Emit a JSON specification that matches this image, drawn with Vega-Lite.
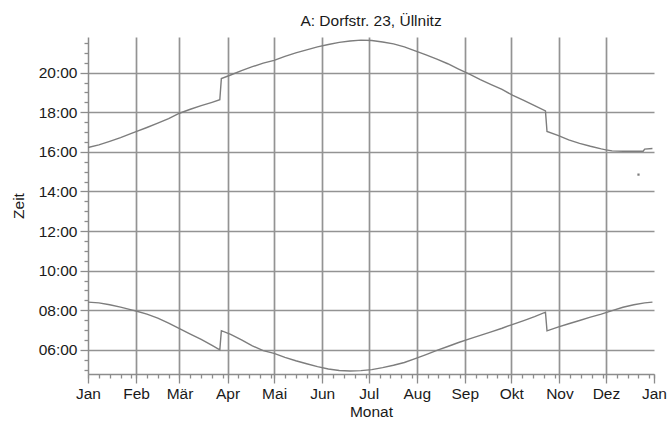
{
  "$schema": "https://vega.github.io/schema/vega-lite/v6.json",
  "width": 566,
  "height": 337,
  "autosize": {"type": "none"},
  "padding": {"left": 88, "top": 37, "right": 13, "bottom": 52},
  "background": "white",
  "title": {"text": "A: Dorfstr. 23, Üllnitz", "fontSize": 15.5, "fontWeight": "normal", "font": "Liberation Sans", "color": "#1a1a1a", "baseline": "alphabetic", "offset": -4.5},
  "config": {"view": {"stroke": null}, "axis": {"labelFont": "Liberation Sans", "titleFont": "Liberation Sans", "labelColor": "#1a1a1a", "titleColor": "#1a1a1a", "titleFontWeight": "normal", "labelFontSize": 15.5, "titleFontSize": 15.5, "domainColor": "#8c8c8c", "domainWidth": 1.5, "tickColor": "#8c8c8c", "tickWidth": 1.3, "gridColor": "#939393", "gridWidth": 1.7, "gridOpacity": 1}},
  "datasets": {
    "untergang": [
      {"d": "2011-01-01", "t": 16.22}, {"d": "2011-01-08", "t": 16.35}, {"d": "2011-01-15", "t": 16.53}, {"d": "2011-01-22", "t": 16.72}, {"d": "2011-01-29", "t": 16.93},
      {"d": "2011-02-01", "t": 17.02}, {"d": "2011-02-08", "t": 17.23}, {"d": "2011-02-15", "t": 17.45}, {"d": "2011-02-22", "t": 17.68},
      {"d": "2011-03-01", "t": 17.95}, {"d": "2011-03-08", "t": 18.15}, {"d": "2011-03-15", "t": 18.33}, {"d": "2011-03-22", "t": 18.5}, {"d": "2011-03-27", "t": 18.63},
      {"d": "2011-03-28", "t": 19.7}, {"d": "2011-04-03", "t": 19.88}, {"d": "2011-04-10", "t": 20.1}, {"d": "2011-04-17", "t": 20.3}, {"d": "2011-04-24", "t": 20.48},
      {"d": "2011-05-01", "t": 20.62}, {"d": "2011-05-08", "t": 20.82}, {"d": "2011-05-15", "t": 21.0}, {"d": "2011-05-22", "t": 21.15}, {"d": "2011-05-29", "t": 21.3},
      {"d": "2011-06-05", "t": 21.42}, {"d": "2011-06-12", "t": 21.53}, {"d": "2011-06-19", "t": 21.6}, {"d": "2011-06-26", "t": 21.64},
      {"d": "2011-07-03", "t": 21.62}, {"d": "2011-07-10", "t": 21.55}, {"d": "2011-07-17", "t": 21.45}, {"d": "2011-07-24", "t": 21.3}, {"d": "2011-07-31", "t": 21.1},
      {"d": "2011-08-07", "t": 20.9}, {"d": "2011-08-14", "t": 20.68}, {"d": "2011-08-21", "t": 20.45}, {"d": "2011-08-28", "t": 20.18},
      {"d": "2011-09-04", "t": 19.92}, {"d": "2011-09-11", "t": 19.65}, {"d": "2011-09-18", "t": 19.4}, {"d": "2011-09-25", "t": 19.15},
      {"d": "2011-10-02", "t": 18.85}, {"d": "2011-10-09", "t": 18.6}, {"d": "2011-10-16", "t": 18.33}, {"d": "2011-10-23", "t": 18.07},
      {"d": "2011-10-24", "t": 17.03}, {"d": "2011-10-31", "t": 16.83}, {"d": "2011-11-07", "t": 16.6}, {"d": "2011-11-14", "t": 16.43}, {"d": "2011-11-21", "t": 16.28}, {"d": "2011-11-28", "t": 16.15},
      {"d": "2011-12-01", "t": 16.1}, {"d": "2011-12-05", "t": 16.05}, {"d": "2011-12-12", "t": 16.03}, {"d": "2011-12-19", "t": 16.03}, {"d": "2011-12-25", "t": 16.03}, {"d": "2011-12-26", "t": 16.14}, {"d": "2011-12-31", "t": 16.17}
    ],
    "aufgang": [
      {"d": "2011-01-01", "t": 8.41}, {"d": "2011-01-08", "t": 8.37}, {"d": "2011-01-15", "t": 8.28}, {"d": "2011-01-22", "t": 8.16}, {"d": "2011-01-29", "t": 8.02},
      {"d": "2011-02-01", "t": 7.96}, {"d": "2011-02-08", "t": 7.8}, {"d": "2011-02-15", "t": 7.6}, {"d": "2011-02-22", "t": 7.35},
      {"d": "2011-03-01", "t": 7.07}, {"d": "2011-03-08", "t": 6.8}, {"d": "2011-03-15", "t": 6.53}, {"d": "2011-03-22", "t": 6.23}, {"d": "2011-03-27", "t": 6.0},
      {"d": "2011-03-28", "t": 6.97}, {"d": "2011-04-03", "t": 6.78}, {"d": "2011-04-10", "t": 6.5}, {"d": "2011-04-17", "t": 6.2}, {"d": "2011-04-24", "t": 5.96},
      {"d": "2011-05-01", "t": 5.82}, {"d": "2011-05-08", "t": 5.62}, {"d": "2011-05-15", "t": 5.45}, {"d": "2011-05-22", "t": 5.3}, {"d": "2011-05-29", "t": 5.15},
      {"d": "2011-06-05", "t": 5.03}, {"d": "2011-06-12", "t": 4.96}, {"d": "2011-06-19", "t": 4.93}, {"d": "2011-06-26", "t": 4.95},
      {"d": "2011-07-03", "t": 5.0}, {"d": "2011-07-10", "t": 5.1}, {"d": "2011-07-17", "t": 5.22}, {"d": "2011-07-24", "t": 5.36}, {"d": "2011-07-31", "t": 5.56},
      {"d": "2011-08-07", "t": 5.76}, {"d": "2011-08-14", "t": 5.97}, {"d": "2011-08-21", "t": 6.17}, {"d": "2011-08-28", "t": 6.37},
      {"d": "2011-09-04", "t": 6.55}, {"d": "2011-09-11", "t": 6.73}, {"d": "2011-09-18", "t": 6.91}, {"d": "2011-09-25", "t": 7.09},
      {"d": "2011-10-02", "t": 7.29}, {"d": "2011-10-09", "t": 7.48}, {"d": "2011-10-16", "t": 7.68}, {"d": "2011-10-23", "t": 7.9},
      {"d": "2011-10-24", "t": 6.96}, {"d": "2011-10-31", "t": 7.15}, {"d": "2011-11-07", "t": 7.32}, {"d": "2011-11-14", "t": 7.48}, {"d": "2011-11-21", "t": 7.65}, {"d": "2011-11-28", "t": 7.8},
      {"d": "2011-12-05", "t": 7.98}, {"d": "2011-12-12", "t": 8.15}, {"d": "2011-12-19", "t": 8.28}, {"d": "2011-12-26", "t": 8.37}, {"d": "2011-12-31", "t": 8.41}
    ],
    "ausreisser": [
      {"d": "2011-12-22", "t": 14.85}
    ]
  },
  "layer": [
    {
      "data": {"name": "untergang"},
      "mark": {"type": "line", "color": "#7d7d7d", "strokeWidth": 1.4},
      "encoding": {
        "x": {"field": "d", "type": "temporal",
          "scale": {"type": "utc", "domain": [{"year": 2011, "month": 1, "date": 1, "utc": true}, {"year": 2012, "month": 1, "date": 1, "utc": true}]},
          "axis": {"orient": "bottom", "title": "Monat", "grid": false, "tickSize": 9, "labelPadding": 3, "titlePadding": 3,
            "values": [{"year": 2011, "month": 1, "date": 1, "utc": true}, {"year": 2011, "month": 2, "date": 1, "utc": true}, {"year": 2011, "month": 3, "date": 1, "utc": true}, {"year": 2011, "month": 4, "date": 1, "utc": true}, {"year": 2011, "month": 5, "date": 1, "utc": true}, {"year": 2011, "month": 6, "date": 1, "utc": true}, {"year": 2011, "month": 7, "date": 1, "utc": true}, {"year": 2011, "month": 8, "date": 1, "utc": true}, {"year": 2011, "month": 9, "date": 1, "utc": true}, {"year": 2011, "month": 10, "date": 1, "utc": true}, {"year": 2011, "month": 11, "date": 1, "utc": true}, {"year": 2011, "month": 12, "date": 1, "utc": true}, {"year": 2012, "month": 1, "date": 1, "utc": true}],
            "labelExpr": "['Jan','Feb','Mär','Apr','Mai','Jun','Jul','Aug','Sep','Okt','Nov','Dez'][utcmonth(datum.value)]",
            "labelOverlap": false, "labelFlush": false}},
        "y": {"field": "t", "type": "quantitative",
          "scale": {"domain": [4.78, 21.8], "nice": false, "zero": false},
          "axis": {"orient": "left", "title": "Zeit", "grid": true, "tickSize": 8, "labelPadding": 3, "titlePadding": 12,
            "values": [6, 8, 10, 12, 14, 16, 18, 20],
            "labelExpr": "(datum.value < 10 ? '0' : '') + datum.value + ':00'"}}
      }
    },
    {
      "data": {"name": "aufgang"},
      "mark": {"type": "line", "color": "#7d7d7d", "strokeWidth": 1.4},
      "encoding": {
        "x": {"field": "d", "type": "temporal",
          "scale": {"type": "utc", "domain": [{"year": 2011, "month": 1, "date": 1, "utc": true}, {"year": 2012, "month": 1, "date": 1, "utc": true}]},
          "axis": {"orient": "bottom", "title": null, "grid": false, "labels": false, "domain": false, "tickSize": 4, "tickCount": {"interval": "day", "step": 7}}},
        "y": {"field": "t", "type": "quantitative",
          "scale": {"domain": [4.78, 21.8], "nice": false, "zero": false},
          "axis": {"orient": "left", "title": null, "grid": false, "labels": false, "domain": false, "tickSize": 4,
            "values": [5, 5.5, 6.5, 7, 7.5, 8.5, 9, 9.5, 10.5, 11, 11.5, 12.5, 13, 13.5, 14.5, 15, 15.5, 16.5, 17, 17.5, 18.5, 19, 19.5, 20.5, 21, 21.5]}}
      }
    },
    {
      "data": {"name": "ausreisser"},
      "mark": {"type": "square", "color": "#7d7d7d", "size": 5, "opacity": 1},
      "encoding": {
        "x": {"field": "d", "type": "temporal",
          "scale": {"type": "utc", "domain": [{"year": 2011, "month": 1, "date": 1, "utc": true}, {"year": 2012, "month": 1, "date": 1, "utc": true}]},
          "axis": {"orient": "bottom", "title": null, "grid": true, "labels": false, "domain": false, "ticks": false,
            "values": [{"year": 2011, "month": 2, "date": 1, "utc": true}, {"year": 2011, "month": 3, "date": 1, "utc": true}, {"year": 2011, "month": 4, "date": 1, "utc": true}, {"year": 2011, "month": 5, "date": 1, "utc": true}, {"year": 2011, "month": 6, "date": 1, "utc": true}, {"year": 2011, "month": 7, "date": 1, "utc": true}, {"year": 2011, "month": 8, "date": 1, "utc": true}, {"year": 2011, "month": 9, "date": 1, "utc": true}, {"year": 2011, "month": 10, "date": 1, "utc": true}, {"year": 2011, "month": 11, "date": 1, "utc": true}, {"year": 2011, "month": 12, "date": 1, "utc": true}]}},
        "y": {"field": "t", "type": "quantitative",
          "scale": {"domain": [4.78, 21.8], "nice": false, "zero": false},
          "axis": null}
      }
    }
  ],
  "resolve": {"axis": {"x": "independent", "y": "independent"}}
}
